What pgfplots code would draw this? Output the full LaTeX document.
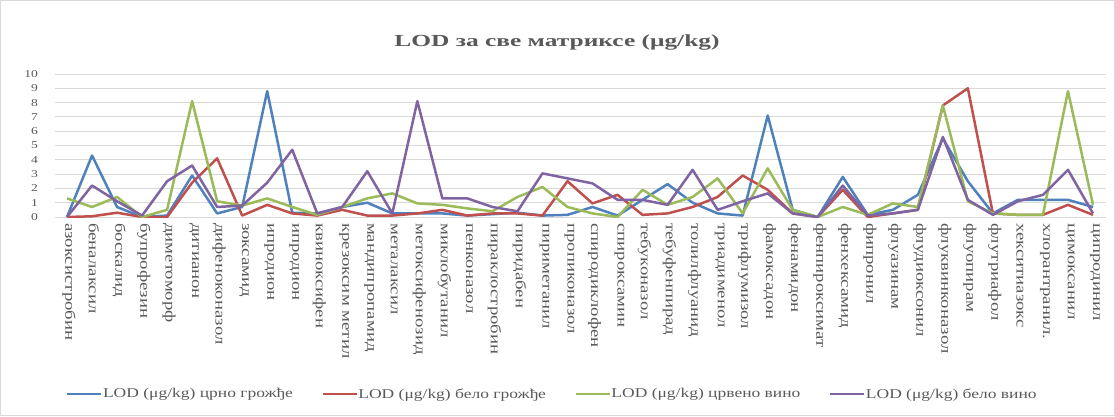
\documentclass[border=0pt]{standalone}
\usepackage{fontspec}
\setmainfont[FakeStretch=1.3]{Liberation Serif}
\newfontfamily\titlefont[FakeStretch=1.5]{Liberation Serif}
\usepackage{pgfplots}
\pgfplotsset{compat=1.18}
\definecolor{sBlue}{HTML}{4F81BD}
\definecolor{sRed}{HTML}{C0504D}
\definecolor{sGreen}{HTML}{9BBB59}
\definecolor{sPurple}{HTML}{8064A2}
\definecolor{gridgray}{HTML}{D9D9D9}
\definecolor{txt}{HTML}{595959}

% LOD values (μg/kg) per pesticide, index 0..41
\pgfplotstableread{
i  crnogr  belogr  crvvino  belovino
0  0      0      1.3   0
1  4.3    0.05   0.7   2.2
2  0.7    0.3    1.4   1.1
3  0      0      0     0.1
4  0.1    0      0.5   2.5
5  2.9    2.4    8.1   3.6
6  0.25   4.1    1.1   0.7
7  0.7    0.1    0.8   0.8
8  8.8    0.85   1.3   2.4
9  0.3    0.25   0.7   4.7
10 0.25   0.1    0.15  0.25
11 0.7    0.5    0.7   0.7
12 1.0    0.1    1.3   3.2
13 0.25   0.1    1.65  0.25
14 0.25   0.25   0.95  8.1
15 0.25   0.5    0.85  1.3
16 0.1    0.1    0.6   1.3
17 0.2    0.25   0.4   0.7
18 0.3    0.25   1.4   0.4
19 0.1    0.1    2.1   3.05
20 0.15   2.5    0.7   2.7
21 0.7    0.95   0.25  2.35
22 0.1    1.55   0     1.2
23 1.2    0.15   1.9   1.2
24 2.3    0.25   0.85  0.85
25 1.0    0.7    1.4   3.3
26 0.25   1.4    2.7   0.5
27 0.1    2.9    0.25  1.1
28 7.1    1.9    3.4   1.65
29 0.5    0.25   0.5   0.25
30 0      0      0     0
31 2.8    1.9    0.7   2.2
32 0.15   0      0.15  0.1
33 0.5    0.25   0.95  0.25
34 1.55   0.5    0.7   0.5
35 5.5    7.8    7.8   5.6
36 2.5    9.0    1.1   1.2
37 0.25   0.25   0.25  0.15
38 1.2    0.15   0.15  1.1
39 1.2    0.15   0.15  1.55
40 1.2    0.85   8.8   3.3
41 0.7    0.15   0.85  0.25
}\lod

\begin{document}
\begin{tikzpicture}[x=1bp,y=1bp]
\draw[draw=gridgray, fill=white, line width=1bp] (0.5,0.5) rectangle (1114.5,415.5);
\node[font=\titlefont\fontsize{17}{20}\selectfont\bfseries, text=txt] at (557,374) {LOD за све матриксе (μg/kg)};
\begin{axis}[
  at={(54.5bp,199bp)}, anchor=south west,
  scale only axis, width=1051bp, height=143bp,
  xmin=-0.5, xmax=41.5, ymin=0, ymax=10,
  axis line style={draw=none},
  major tick length=0pt,
  ymajorgrids, grid style={gridgray, line width=0.9bp},
  xtick={0,...,41},
  xticklabels={азоксистробин, беналаксил, боскалид, бупрофезин, диметоморф,
    дитианон, дифеноконазол, зоксамид, ипродион, ипродион, квиноксифен,
    крезоксим метил, мандипропамид, металаксил, метоксифенозид, миклобутанил,
    пенконазол, пираклостробин, пиридабен, пириметанил, пропиконазол,
    спиродиклофен, спироксамин, тебуконазол, тебуфенпирад, толилфлуанид,
    триадименол, трифлумизол, фамоксадон, фенамидон, фенпироксимат,
    фенхексамид, фипронил, флуазинам, флудиоксонил, флуквинконазол,
    флуопирам, флутриафол, хекситиазокс, хлорантранил., цимоксанил,
    ципродинил},
  xticklabel style={yshift=-6bp, xshift=2bp, rotate=-90, anchor=west,
    font=\fontsize{14.5}{15}\selectfont, text=txt, inner sep=0pt},
  ytick={0,...,10},
  yticklabel style={font=\fontsize{10.5}{11}\selectfont, text=txt, xshift=-13bp},
  /pgf/number format/assume math mode=true,
  legend columns=4,
  legend style={draw=none, fill=none, at={(0.473,-1.238)}, anchor=center,
    font=\fontsize{13.5}{15}\selectfont, text=txt,
    nodes={inner sep=0.5bp}},
  legend image code/.code={\draw[#1, line width=2.5bp] (0bp,0bp) -- (34bp,0bp);},
  every axis plot/.append style={line width=2.5bp, line join=round, mark=none},
]
\addplot[sBlue] table[x=i, y=crnogr] {\lod};
\addlegendentry{LOD (μg/kg) црно грожђе\hspace*{28bp}}
\addplot[sRed] table[x=i, y=belogr] {\lod};
\addlegendentry{LOD (μg/kg) бело грожђе\hspace*{28bp}}
\addplot[sGreen] table[x=i, y=crvvino] {\lod};
\addlegendentry{LOD (μg/kg) црвено вино\hspace*{28bp}}
\addplot[sPurple] table[x=i, y=belovino] {\lod};
\addlegendentry{LOD (μg/kg) бело вино}
\end{axis}
\end{tikzpicture}
\end{document}
